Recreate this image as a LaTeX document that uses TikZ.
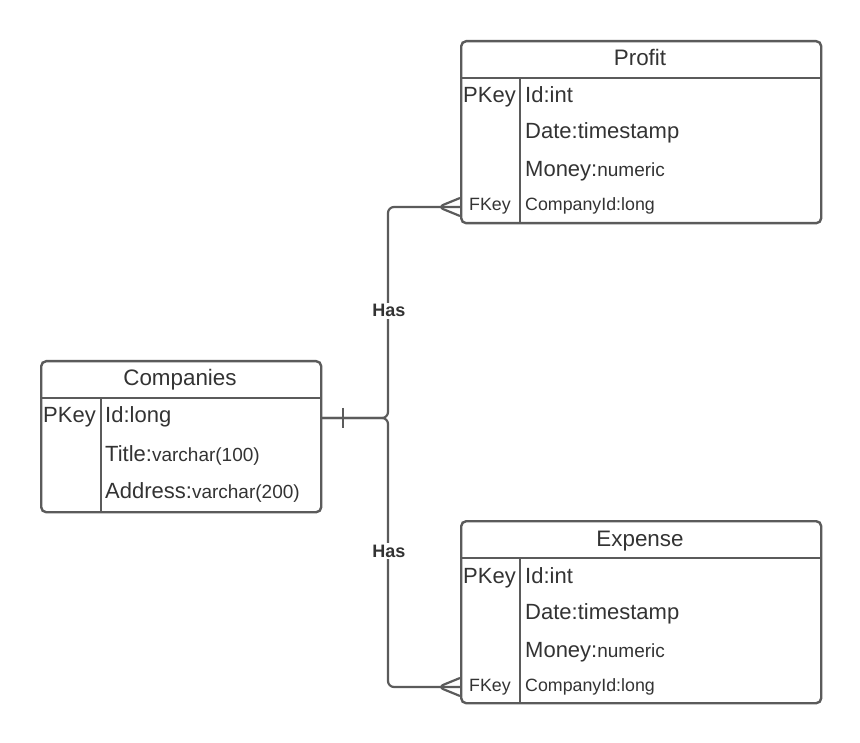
\documentclass[tikz,border=0pt]{standalone}
\usepackage{xcolor}
\usepackage{fontspec}
\setmainfont{Liberation Sans}
\usetikzlibrary{fit}
\usetikzlibrary{positioning}
\definecolor{linegray}{HTML}{5B5B5B}
\definecolor{textgray}{HTML}{333333}
\tikzset{%
  tablebox/.style={rectangle,rounded corners=5pt,draw=linegray,line width=2.4pt,inner sep=0pt,anchor=north west},
  tablerule/.style={draw=linegray,line width=2.4pt},
  headtext/.style={text=textgray,font=\fontsize{22.4}{26}\selectfont,inner sep=0pt,anchor=base},
  fieldtext/.style={text=textgray,font=\fontsize{22}{26}\selectfont,inner sep=0pt,anchor=base west},
  keytext/.style={text=textgray,font=\fontsize{22}{26}\selectfont,inner sep=0pt,anchor=base west},
  fkeytext/.style={text=textgray,font=\fontsize{17.8}{21}\selectfont,inner sep=0pt,anchor=base},
  relline/.style={draw=linegray,line width=2.2pt,rounded corners=6pt},
  haslabel/.style={fill=white,text=textgray,font=\bfseries\fontsize{18}{21}\selectfont,inner sep=2pt,anchor=base}
}
\newcommand\smalltype[1]{{\fontsize{19}{22}\selectfont #1}}

\begin{document}
\begin{tikzpicture}[x=1pt,y=-1pt]
  \useasboundingbox (0,0) rectangle (860,743);
  % Companies
  \node[tablebox,minimum width=280pt,minimum height=151pt](companies) at (40,360){};
  \draw[tablerule] (40,398) -- (320,398);
  \draw[tablerule] (101,398) -- (101,511);
  \node[headtext](compname) at (180,386){Companies};
  \node[keytext](comppk) at (43,422){PKey};
  \node[fieldtext](compid) at (105,422){Id:long};
  \node[fieldtext](comptitle) at (105,461){Title:\smalltype{varchar(100)}};
  \node[fieldtext](compaddr) at (105,498){Address:\smalltype{varchar(200)}};
  % Profit
  \node[tablebox,minimum width=360pt,minimum height=182pt](profit) at (460,40){};
  \draw[tablerule] (460,78) -- (820,78);
  \draw[tablerule] (520,78) -- (520,222);
  \node[headtext](profitname) at (640,66){Profit};
  \node[keytext](profitpk) at (463,103){PKey};
  \node[fieldtext](profitid) at (525,103){Id:int};
  \node[fieldtext](profitdate) at (525,139){Date:timestamp};
  \node[fieldtext](profitmoney) at (525,177){Money:\smalltype{numeric}};
  \node[fkeytext](profitfk) at (490,211){FKey};
  \node[fkeytext,anchor=base west](profitcid) at (525,211){CompanyId:long};
  % Expense
  \node[tablebox,minimum width=360pt,minimum height=182pt](expense) at (460,520){};
  \draw[tablerule] (460,558) -- (820,558);
  \draw[tablerule] (520,558) -- (520,702);
  \node[headtext](expensename) at (640,546){Expense};
  \node[keytext](expensepk) at (463,583){PKey};
  \node[fieldtext](expenseid) at (525,583){Id:int};
  \node[fieldtext](expensedate) at (525,619){Date:timestamp};
  \node[fieldtext](expensemoney) at (525,657){Money:\smalltype{numeric}};
  \node[fkeytext](expensefk) at (490,691){FKey};
  \node[fkeytext,anchor=base west](expensecid) at (525,691){CompanyId:long};
  % relations
  \coordinate (compout) at (320,418);
  \coordinate (split) at (388,418);
  \coordinate (profitin) at (460,207);
  \coordinate (expensein) at (460,687);
  \draw[relline] (compout) -- (split) |- (profitin);
  \draw[relline] (compout) -- (split) |- (expensein);
  \draw[relline] (343,408) -- (343,428);
  \draw[relline] (profitin) ++(0,-9) -- (438,207) -- (460,216);
  \draw[relline] (expensein) ++(0,-9) -- (438,687) -- (460,696);
  \node[haslabel](hasprofit) at (389,317){Has};
  \node[haslabel](hasexpense) at (389,557){Has};
\end{tikzpicture}
\end{document}
